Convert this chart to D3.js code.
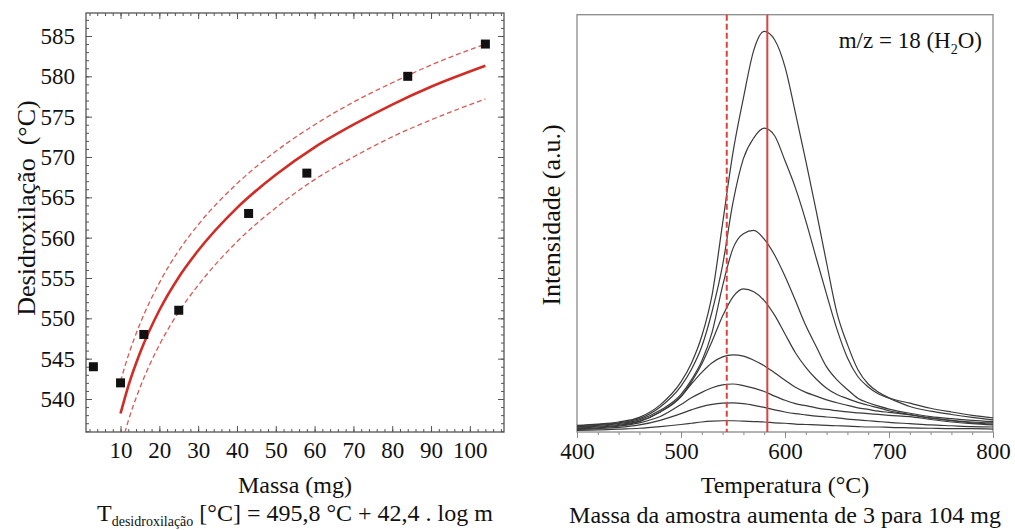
<!DOCTYPE html>
<html>
<head>
<meta charset="utf-8">
<script src="https://cdn.jsdelivr.net/npm/d3@7"></script>
<style>
	body { margin: 0; background: #fff; }
	svg text { font-family: "Liberation Serif", "Times New Roman", serif; fill: #111; }
</style>
</head>
<body>
<div id="chart-area"></div>
<script>
// ---- left panel: dehydroxylation temperature vs sample mass
let massPoints = [3, 10, 16, 25, 43, 58, 84, 104];
let tempPoints = [544, 542, 548, 551, 563, 568, 580, 584];

// fitted curve and its dashed band
let fitMass  = [10, 12, 15, 20, 25, 30, 40, 50, 60, 70, 80, 90, 104];
let fitTemp  = [538.2, 541.6, 545.7, 551.0, 555.1, 558.4, 563.7, 567.8, 571.2, 574.0, 576.5, 578.7, 581.3];
let fitUpper = [542.2, 545.4, 549.3, 554.4, 558.4, 561.6, 566.7, 570.7, 574.0, 576.8, 579.2, 581.4, 584.0];
let fitLower = [533.9, 537.3, 541.4, 546.7, 550.8, 554.1, 559.5, 563.7, 567.2, 570.0, 572.5, 574.6, 577.2];

let massTicks = [10, 20, 30, 40, 50, 60, 70, 80, 90, 100];
let dehydTicks = [540, 545, 550, 555, 560, 565, 570, 575, 580, 585];

// ---- right panel: MS signal m/z = 18 for increasing sample mass
let temps = [400, 420, 440, 460, 480, 500, 510, 520, 530, 540, 550, 560, 570, 580, 590, 600,
	610, 620, 630, 640, 650, 660, 670, 680, 690, 700, 720, 740, 760, 780, 800];

let curve104 = [1.6, 1.9, 2.4, 3.5, 6.5, 12, 16.5, 23, 33, 50, 67, 80, 91.5, 96, 94, 87.5,
	76.5, 65, 53, 40.5, 28.5, 21, 15, 11.5, 9.5, 8.2, 6.9, 5.7, 4.8, 4.0, 3.4];
let curve84 = [1.5, 1.8, 2.2, 3.2, 6.0, 11, 15, 20.5, 29, 40, 55, 65.5, 70.5, 72.8, 71, 65,
	58.5, 50.6, 41.7, 33, 24.6, 17.8, 13.3, 10.8, 9.1, 8.1, 6.1, 5.0, 4.2, 3.5, 2.9];
let curve58 = [1.3, 1.6, 2.0, 2.9, 5.2, 9, 12.5, 17, 24, 35, 44, 47.5, 48.3, 46.2, 42.4, 37.3,
	31.5, 25.5, 20.5, 15.6, 12.5, 10.2, 8.1, 7.0, 6.2, 5.5, 4.5, 3.7, 3.2, 2.8, 2.5];
let curve43 = [1.2, 1.4, 1.8, 2.6, 4.8, 8.5, 12, 16.3, 21.8, 27.8, 32.4, 34.3, 33.6, 31.5, 28, 23.5,
	19, 15.5, 12.7, 10.5, 9.0, 8.0, 7.1, 6.4, 5.8, 5.1, 4.2, 3.4, 2.8, 2.4, 2.2];
let curve25 = [1.0, 1.2, 1.6, 2.5, 4.8, 8.5, 11.5, 14.3, 16.6, 18, 18.5, 18.2, 17.2, 15.9, 14.2, 12.4,
	10.7, 9.5, 8.6, 7.7, 7.0, 6.4, 5.8, 5.4, 5.0, 4.7, 4.1, 3.3, 2.7, 2.2, 1.9];
let curve16 = [0.8, 1.0, 1.4, 2.2, 3.7, 6.6, 8.2, 9.5, 10.6, 11.3, 11.5, 11.1, 10.5, 9.7, 8.6, 7.6,
	6.8, 6.3, 5.8, 5.4, 5.1, 4.8, 4.6, 4.4, 4.2, 4.0, 3.7, 3.0, 2.4, 2.0, 1.7];
let curve10 = [0.6, 0.8, 1.1, 1.7, 2.8, 4.4, 5.3, 6.1, 6.6, 6.9, 7.0, 6.8, 6.4, 5.9, 5.3, 4.8,
	4.4, 4.1, 3.8, 3.6, 3.4, 3.1, 2.9, 2.7, 2.5, 2.3, 2.0, 1.7, 1.5, 1.3, 1.2];
let curve3 = [0.4, 0.5, 0.7, 0.9, 1.3, 1.8, 2.1, 2.4, 2.6, 2.7, 2.7, 2.6, 2.5, 2.4, 2.2, 2.1,
	1.9, 1.8, 1.7, 1.6, 1.5, 1.4, 1.3, 1.2, 1.2, 1.1, 1.0, 0.9, 0.8, 0.8, 0.7];
let intensityCurves = [curve104, curve84, curve58, curve43, curve25, curve16, curve10, curve3];

let tempTicks = [400, 500, 600, 700, 800];
let peakTemps = [544, 583];   // dashed (3 mg) and solid (104 mg) markers

let serif = "'Liberation Serif', 'Times New Roman', serif";

let svg = d3.select("#chart-area").append("svg")
	.attr("width", 1015)
	.attr("height", 530);

drawLeft();
drawRight();


function drawLeft() {
	let left = 86, right = 504, top = 13, bottom = 432;

	let x = d3.scaleLinear().domain([1.1, 108.8]).range([left, right]);
	let y = d3.scaleLinear().domain([535.91, 587.85]).range([bottom, top]);

	let g = svg.append("g");

	// clip for the curves
	g.append("clipPath").attr("id", "clip-left")
		.append("rect")
		.attr("x", left).attr("y", top)
		.attr("width", right - left).attr("height", bottom - top);

	let minorX = d3.range(2, 109, 2);
	let minorY = d3.range(536, 588, 1);
	let frameColor = "#555";

	// inward ticks on all four sides
	let axes = [
		[d3.axisBottom(x).tickValues(massTicks).tickSize(-6).tickPadding(10), "translate(0," + bottom + ")"],
		[d3.axisBottom(x).tickValues(minorX).tickSize(-3).tickFormat(""), "translate(0," + bottom + ")"],
		[d3.axisTop(x).tickValues(massTicks).tickSize(-6).tickFormat(""), "translate(0," + top + ")"],
		[d3.axisTop(x).tickValues(minorX).tickSize(-3).tickFormat(""), "translate(0," + top + ")"],
		[d3.axisLeft(y).tickValues(dehydTicks).tickSize(-6).tickPadding(11), "translate(" + left + ",0)"],
		[d3.axisLeft(y).tickValues(minorY).tickSize(-3).tickFormat(""), "translate(" + left + ",0)"],
		[d3.axisRight(y).tickValues(dehydTicks).tickSize(-6).tickFormat(""), "translate(" + right + ",0)"],
		[d3.axisRight(y).tickValues(minorY).tickSize(-3).tickFormat(""), "translate(" + right + ",0)"]
	];
	axes.forEach(a => {
		let ax = g.append("g").attr("transform", a[1]).call(a[0]);
		ax.attr("font-family", null);
		ax.select(".domain").remove();
		ax.selectAll("line").attr("stroke", frameColor).attr("stroke-width", 1);
		ax.selectAll("text").attr("font-size", 23).attr("fill", "#111")
			.style("font-family", serif);
	});

	g.append("rect")
		.attr("x", left).attr("y", top)
		.attr("width", right - left).attr("height", bottom - top)
		.attr("fill", "none")
		.attr("stroke", frameColor)
		.attr("stroke-width", 1.3);

	let line = d3.line().curve(d3.curveMonotoneX);
	let curves = g.append("g").attr("clip-path", "url(#clip-left)");

	[fitUpper, fitLower].forEach(band => {
		curves.append("path")
			.attr("d", line(fitMass.map((m, i) => [x(m), y(band[i])])))
			.attr("fill", "none")
			.attr("stroke", "#d65b55")
			.attr("stroke-width", 1.3)
			.attr("stroke-dasharray", "5,3");
	});

	curves.append("path")
		.attr("d", line(fitMass.map((m, i) => [x(m), y(fitTemp[i])])))
		.attr("fill", "none")
		.attr("stroke", "#cf2d25")
		.attr("stroke-width", 2.6);

	g.selectAll(".pt").data(massPoints)
		.enter()
		.append("rect")
		.attr("class", "pt")
		.attr("x", (d, i) => x(d) - 4.5)
		.attr("y", (d, i) => y(tempPoints[i]) - 4.5)
		.attr("width", 9)
		.attr("height", 9)
		.attr("fill", "#111");

	// axis titles
	g.append("text")
		.attr("x", (left + right) / 2).attr("y", 493)
		.attr("text-anchor", "middle")
		.attr("font-size", 24)
		.text("Massa (mg)");

	g.append("text")
		.attr("transform", "translate(35,208) rotate(-90)")
		.attr("text-anchor", "middle")
		.attr("font-size", 26)
		.attr("xml:space", "preserve")
		.text("Desidroxilação  (°C)");

	// equation caption
	let cap = g.append("text")
		.attr("x", 97).attr("y", 521)
		.attr("font-size", 24);
	cap.append("tspan").text("T");
	cap.append("tspan").attr("dy", 5).attr("font-size", 14).text("desidroxilação");
	cap.append("tspan").attr("dy", -5).text(" [°C] = 495,8 °C + 42,4 . log m");
}


function drawRight() {
	let left = 577, right = 993, top = 14.7, bottom = 432;

	let x = d3.scaleLinear().domain([400, 800]).range([left, right]);
	let y = d3.scaleLinear().domain([0, 100]).range([bottom, top]);

	let g = svg.append("g");
	let frameColor = "#8a8a8a";

	let xAxis = d3.axisBottom(x).tickValues(tempTicks).tickSize(6).tickPadding(5);
	let xMinor = d3.axisBottom(x).tickValues(d3.range(400, 801, 20)).tickSize(3).tickFormat("");

	g.append("g").attr("transform", "translate(0," + bottom + ")").call(xMinor)
		.call(a => a.select(".domain").remove())
		.selectAll("line").attr("stroke", frameColor);

	let ax = g.append("g").attr("transform", "translate(0," + bottom + ")").call(xAxis);
	ax.attr("font-family", null);
	ax.select(".domain").remove();
	ax.selectAll("line").attr("stroke", frameColor);
	ax.selectAll("text").attr("font-size", 23).attr("fill", "#111")
		.style("font-family", serif);

	g.append("rect")
		.attr("x", left).attr("y", top)
		.attr("width", right - left).attr("height", bottom - top)
		.attr("fill", "none")
		.attr("stroke", frameColor)
		.attr("stroke-width", 1.3);

	// intensity curves
	let line = d3.line()
		.x((d, i) => x(temps[i]))
		.y(d => y(d))
		.curve(d3.curveMonotoneX);

	g.selectAll(".ms-curve").data(intensityCurves)
		.enter()
		.append("path")
		.attr("class", "ms-curve")
		.attr("d", d => line(d))
		.attr("fill", "none")
		.attr("stroke", "#3a3a3a")
		.attr("stroke-width", 1.2);

	// peak temperature markers
	g.selectAll(".peak").data(peakTemps)
		.enter()
		.append("line")
		.attr("class", "peak")
		.attr("x1", d => x(d)).attr("x2", d => x(d))
		.attr("y1", top).attr("y2", bottom)
		.attr("stroke", "#d9443d")
		.attr("stroke-width", 2)
		.attr("stroke-dasharray", (d, i) => i == 0 ? "6,3" : null);

	// labels
	g.append("text")
		.attr("x", (left + right) / 2).attr("y", 493)
		.attr("text-anchor", "middle")
		.attr("font-size", 24)
		.text("Temperatura (°C)");

	g.append("text")
		.attr("x", (left + right) / 2).attr("y", 523)
		.attr("text-anchor", "middle")
		.attr("font-size", 24)
		.text("Massa da amostra aumenta de 3 para 104 mg");

	g.append("text")
		.attr("transform", "translate(560,215) rotate(-90)")
		.attr("text-anchor", "middle")
		.attr("font-size", 26)
		.text("Intensidade (a.u.)");

	let title = g.append("text")
		.attr("x", 982).attr("y", 48)
		.attr("text-anchor", "end")
		.attr("font-size", 23);
	title.append("tspan").text("m/z = 18 (H");
	title.append("tspan").attr("dy", 6).attr("font-size", 14).text("2");
	title.append("tspan").attr("dy", -6).text("O)");
}
</script>
</body>
</html>
